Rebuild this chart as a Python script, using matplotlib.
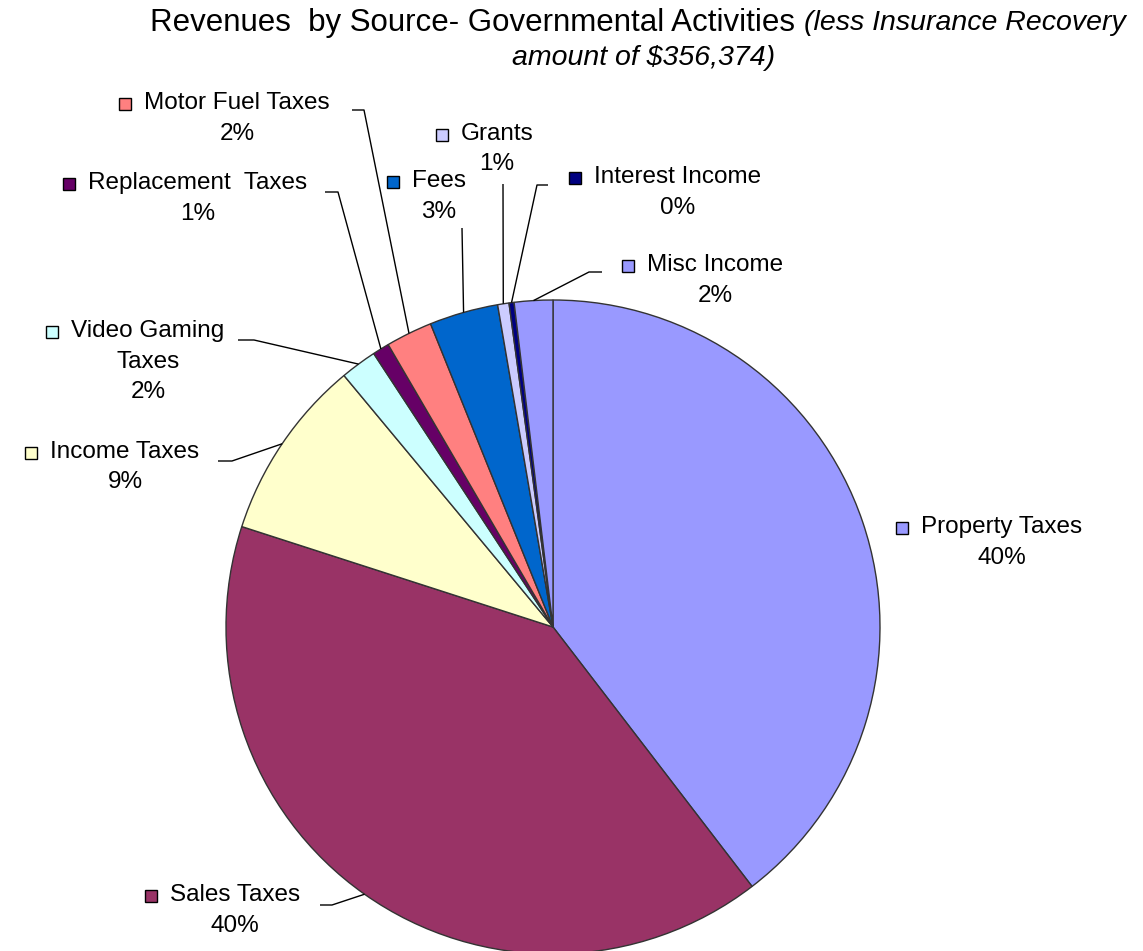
import matplotlib
matplotlib.use("Agg")
import matplotlib.pyplot as plt
import numpy as np

plt.rcParams['font.family'] = ['Liberation Sans', 'DejaVu Sans']

# ---- data ----
categories = ["Property Taxes", "Sales Taxes", "Income Taxes", "Video Gaming Taxes",
              "Replacement Taxes", "Motor Fuel Taxes", "Fees", "Grants",
              "Interest Income", "Misc Income"]
values = [39.6, 40.4, 9.0, 1.8, 0.83, 2.3, 3.4, 0.56, 0.25, 1.9]
pct_labels = ["40%", "40%", "9%", "2%", "1%", "2%", "3%", "1%", "0%", "2%"]
colors = ["#9999FF", "#993366", "#FFFFCC", "#CCFFFF", "#660066",
          "#FF8080", "#0066CC", "#CCCCFF", "#000080", "#9999FF"]

W, H = 1143, 951
fig = plt.figure(figsize=(W / 100, H / 100), dpi=100)
ax = fig.add_axes([0, 0, 1, 1])

def Y(y):
    return H - y

cx, cy, R = 553, Y(627), 327
ax.pie(values, colors=colors, startangle=90, counterclock=False,
       radius=R, center=(cx, cy),
       wedgeprops=dict(edgecolor="#333333", linewidth=1.0))
ax.set_xlim(0, W)
ax.set_ylim(0, H)
ax.set_aspect('equal', adjustable='box')
ax.axis('off')

fs = 17.5
# label layout: (name lines, center x, first line y (px from top))
layout = {
    "Property Taxes": (["Property Taxes"], 1002, 527),
    "Sales Taxes": (["Sales Taxes"], 235, 895),
    "Income Taxes": (["Income Taxes"], 125, 452),
    "Video Gaming Taxes": (["Video Gaming", "Taxes"], 148, 331),
    "Replacement Taxes": (["Replacement  Taxes"], 198, 183),
    "Motor Fuel Taxes": (["Motor Fuel Taxes"], 237, 103),
    "Fees": (["Fees"], 439, 181),
    "Grants": (["Grants"], 497, 134),
    "Interest Income": (["Interest Income"], 678, 177),
    "Misc Income": (["Misc Income"], 715, 265),
}
leader_start = {
    "Sales Taxes": [(320, 905), (332, 905)],
    "Income Taxes": [(218, 461), (232, 461)],
    "Video Gaming Taxes": [(238, 340), (254, 340)],
    "Replacement Taxes": [(325, 192), (338, 192)],
    "Motor Fuel Taxes": [(352, 110), (364, 110)],
    "Fees": [(462, 228)],
    "Grants": [(503, 184)],
    "Interest Income": [(548, 185), (537, 185)],
    "Misc Income": [(602, 272), (589, 272)],
}
line_h = 30.5

fig.canvas.draw()
renderer = fig.canvas.get_renderer()

frac = np.array(values) / np.sum(values)
cum = np.concatenate([[0], np.cumsum(frac)])
for i, cat in enumerate(categories):
    lines, x, y0 = layout[cat]
    texts = []
    for k, ln in enumerate(lines + [pct_labels[i]]):
        t = ax.text(x, Y(y0 + k * line_h), ln, ha='center', va='center',
                    fontsize=fs, color='black')
        texts.append(t)
    # marker to the left of first line
    bb = texts[0].get_window_extent(renderer=renderer)
    mx = bb.x0 - 19
    ax.plot([mx], [Y(y0) - 1], marker='s', markersize=8, markerfacecolor=colors[i],
            markeredgecolor='black', markeredgewidth=1.0, linestyle='none')
    # leader line
    if cat in leader_start:
        mid = np.deg2rad(90 - 360 * (cum[i] + frac[i] / 2))
        ex, ey = cx + R * np.cos(mid), cy + R * np.sin(mid)
        pts = [(px, Y(py)) for px, py in leader_start[cat]] + [(ex, ey)]
        xs, ys = zip(*pts)
        ax.plot(xs, ys, color='black', linewidth=1.0, solid_capstyle='butt')

# title
t1 = ax.text(150, Y(23), "Revenues  by Source- Governmental Activities ", ha='left',
             va='center', fontsize=22.5, color='black')
fig.canvas.draw()
bb1 = t1.get_window_extent(renderer=renderer)
ax.text(bb1.x1, Y(23), "(less Insurance Recovery", ha='left', va='center',
        fontsize=20.5, style='italic', color='black')
ax.text(644, Y(58), "amount of $356,374)", ha='center', va='center',
        fontsize=20.5, style='italic', color='black')

fig.savefig("out.png", dpi=100)
